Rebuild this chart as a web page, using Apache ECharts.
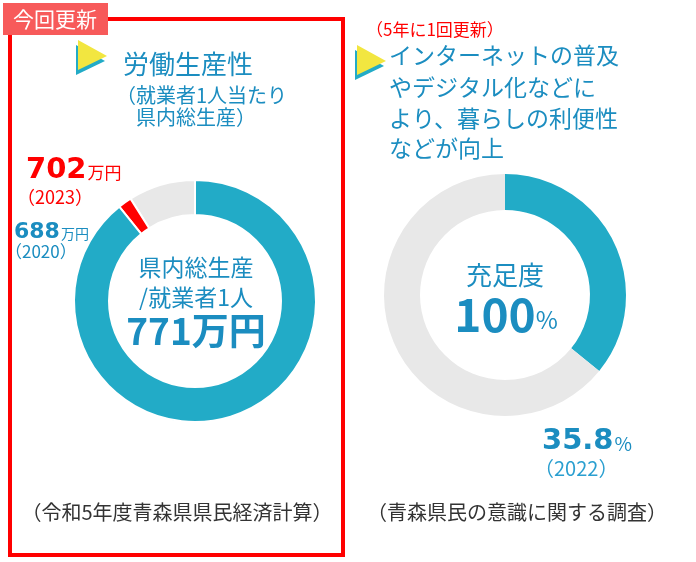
<!DOCTYPE html>
<html>
<head>
<meta charset="utf-8">
<script src="https://cdn.jsdelivr.net/npm/echarts@6/dist/echarts.min.js"></script>
<style>
  html, body { margin: 0; padding: 0; background: #fff; }
  #chart { width: 696px; height: 562px; }
</style>
</head>
<body>
<div id="chart"></div>
<script>
// 労働生産性（万円）: 2020年の値, 2023年までの増加分, 県内総生産/就業者1人 までの残り
const productivityNames = ['2020', '2023までの増加', '残り'];
const productivityValues = [688, 14, 69];
const productivityTotal = 771;

// 充足度（%）
const satisfactionNames = ['2022', '残り'];
const satisfactionValues = [35.8, 64.2];

const FONT = '"Noto Sans CJK JP", "Noto Sans", sans-serif';
const NUM_FONT = '"DejaVu Sans", sans-serif';
const BLUE = '#1b8dc0';
const TEAL = '#22abc7';
const GRAY = '#e8e8e8';
const RED = '#ff0000';

const chart = echarts.init(document.getElementById('chart'));

// 三角マーク（黄色＋影）
function marker(x, y) {
  return [
    { type: 'polygon', shape: { points: [[x - 2, y + 5], [x + 27, y + 21], [x - 2, y + 35]] }, style: { fill: TEAL } },
    { type: 'polygon', shape: { points: [[x, y], [x + 29, y + 16], [x, y + 30]] }, style: { fill: '#f2e640' } },
  ];
}

function txt(x, y, text, size, color, align, weight) {
  return {
    type: 'text', x: x, y: y,
    style: {
      text: text, fontSize: size, fill: color, fontFamily: FONT,
      align: align || 'left', verticalAlign: 'middle', fontWeight: weight || 'normal',
    },
  };
}

// 数値＋単位
function numLabel(x, y, num, unit, bigSize, smallSize, color, pad) {
  return {
    type: 'text', x: x, y: y,
    style: {
      text: '{b|' + num + '}{s|' + unit + '}',
      fontFamily: FONT, verticalAlign: 'middle',
      rich: {
        b: { fontSize: bigSize, fontWeight: 'bold', fill: color, fontFamily: NUM_FONT },
        s: { fontSize: smallSize, fill: color, fontFamily: FONT, padding: [pad, 0, 0, 1] },
      },
    },
  };
}

const option = {
  animation: false,
  series: [
    {
      type: 'pie',
      center: [195, 301],
      radius: [86, 121],
      startAngle: 90,
      clockwise: false,
      silent: true,
      label: { show: false },
      itemStyle: { borderColor: '#fff', borderWidth: 2 },
      data: [
        { name: productivityNames[2], value: productivityValues[2], itemStyle: { color: GRAY } },
        { name: productivityNames[1], value: productivityValues[1], itemStyle: { color: RED } },
        { name: productivityNames[0], value: productivityValues[0], itemStyle: { color: TEAL } },
      ],
    },
    {
      type: 'pie',
      center: [505, 295],
      radius: [85, 121],
      startAngle: 90,
      clockwise: true,
      silent: true,
      label: { show: false },
      data: [
        { name: satisfactionNames[0], value: satisfactionValues[0], itemStyle: { color: TEAL } },
        { name: satisfactionNames[1], value: satisfactionValues[1], itemStyle: { color: GRAY } },
      ],
    },
  ],
  graphic: [
    // 左の枠と「今回更新」
    { type: 'rect', shape: { x: 10, y: 19, width: 333, height: 536 }, style: { fill: 'none', stroke: RED, lineWidth: 4 } },
    { type: 'rect', shape: { x: 3, y: 3, width: 105, height: 32 }, style: { fill: '#f75a5a' } },
    txt(55, 19, '今回更新', 21, '#fff', 'center'),

    ...marker(78, 40),
    txt(123, 64, '労働生産性', 26, BLUE),
    txt(116, 95, '（就業者1人当たり', 20, BLUE),
    txt(136, 117, '県内総生産）', 20, BLUE),

    numLabel(26, 170, productivityValues[0] + productivityValues[1], '万円', 29, 17, RED, 5),
    txt(17, 197, '（2023）', 18, RED),
    numLabel(14, 232, productivityValues[0], '万円', 22, 14, BLUE, 4),
    txt(5, 252, '（2020）', 17, BLUE),

    txt(196, 267, '県内総生産', 23, BLUE, 'center'),
    txt(196, 297, '/就業者1人', 23, BLUE, 'center'),
    txt(196, 331, productivityTotal + '万円', 37, BLUE, 'center', 'bold'),

    // 右側
    txt(366, 30, '（5年に1回更新）', 17, RED),
    ...marker(357, 45),
    txt(389, 55, 'インターネットの普及', 23, BLUE),
    txt(389, 87, 'やデジタル化などに', 23, BLUE),
    txt(389, 118, 'より、暮らしの利便性', 23, BLUE),
    txt(389, 148, 'などが向上', 23, BLUE),

    txt(505, 275, '充足度', 26, BLUE, 'center'),
    {
      type: 'text', x: 506, y: 315,
      style: {
        text: '{b|100}{s|%}',
        fontFamily: FONT, align: 'center', verticalAlign: 'middle',
        rich: {
          b: { fontSize: 46, fontWeight: 'bold', fill: BLUE, fontFamily: FONT },
          s: { fontSize: 24, fill: BLUE, fontFamily: FONT, padding: [10, 0, 0, 0] },
        },
      },
    },
    numLabel(542, 441, satisfactionValues[0], '%', 29, 19, BLUE, 6),
    txt(534, 468, '（2022）', 20, '#2a9fd0'),

    txt(177, 512, '（令和5年度青森県県民経済計算）', 20, '#333', 'center'),
    txt(517, 512, '（青森県民の意識に関する調査）', 20, '#333', 'center'),
  ],
};

chart.setOption(option);
</script>
</body>
</html>
